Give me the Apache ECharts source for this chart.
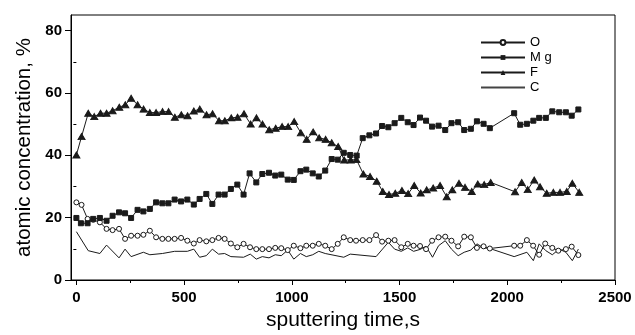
<!DOCTYPE html>
<html><head><meta charset="utf-8">
<script src="https://cdn.jsdelivr.net/npm/echarts@6/dist/echarts.min.js"></script>
<style>html,body{margin:0;padding:0;background:#fff}#c{width:635px;height:335px}</style>
</head><body><div id="c"></div>
<script>
// tick labels
const xTicks = [0, 500, 1000, 1500, 2000, 2500];
const xMinorTicks = [250, 750, 1250, 1750, 2250];
const yTicks = [0, 20, 40, 60, 80];
const yMinorTicks = [10, 30, 50, 70];

// O (open circles)
const oTime = [0,24,52,78,109,140,168,198,226,254,284,311,341,370,399,427,456,486,515,545,572,603,631,660,688,717,747,776,806,835,863,894,923,951,981,1009,1040,1067,1097,1125,1155,1185,1213,1241,1271,1298,1329,1360,1391,1419,1448,1477,1508,1538,1565,1595,1623,1651,1681,1712,1741,1772,1800,1831,1859,1890,1919,2032,2060,2091,2120,2148,2176,2209,2237,2272,2299,2330];
const oValue = [24.9,24.1,19.6,19.3,18.5,16.4,16,16.4,13.2,14.2,14.2,14.5,15.8,13.7,13.2,13.2,13.2,13.5,12.6,11.7,12.8,12.4,12.8,13.5,13.2,11.7,10.5,11.6,10.5,9.9,9.9,9.9,10.3,10.2,9.6,11,10.2,11,11,11.6,11,9.9,11.6,13.7,12.8,12.6,12.8,12.8,14.4,12.3,12.6,12.8,10.5,11.6,11,10.9,9.9,12.6,13.7,13.9,12.6,10.8,13.9,13.7,10.3,10.8,10.1,11,11,12.8,11,8.1,11.7,10.3,9.4,9.9,10.7,8];

// Mg (filled squares)
const mgTime = [0,21,52,78,109,140,168,198,226,254,284,311,341,370,399,427,456,486,515,545,572,603,631,660,688,717,747,776,804,835,863,894,923,951,981,1009,1040,1067,1097,1125,1155,1185,1213,1241,1271,1301,1329,1360,1391,1419,1448,1477,1508,1538,1565,1595,1623,1651,1681,1712,1741,1772,1800,1831,1859,1890,1919,2032,2060,2091,2121,2148,2179,2209,2241,2272,2299,2330];
const mgValue = [19.9,18.2,18.2,19.6,19.9,19,20.6,21.7,21.4,19.9,22.5,22,22.8,24.9,24.6,24.6,25.8,25.2,25.8,24.2,26,27.6,24.4,27.4,27.4,29.2,30.6,27.4,34.2,31.3,34,34.4,33.5,33.8,32.2,32.1,34.9,35.4,34.2,33.2,35.1,38.8,38.6,40.8,40.1,39.9,45.5,46.4,47,49.4,49,50.3,52,50.6,49.7,52.1,51.1,49.2,49.5,48.1,50.3,50.6,48.1,48.5,50.9,50.1,48.7,53.5,49.8,50.1,51.1,52,52,54.1,53.8,53.8,52.7,54.7];

// F (filled triangles)
const fTime = [0,24,55,83,112,140,168,199,227,254,284,312,341,370,400,428,457,487,516,545,573,604,632,662,689,719,748,778,809,836,864,895,925,955,983,1011,1042,1069,1099,1127,1157,1185,1215,1243,1273,1300,1332,1363,1394,1422,1451,1480,1511,1540,1568,1598,1626,1656,1688,1719,1745,1776,1804,1835,1863,1893,1923,2036,2067,2095,2125,2152,2183,2214,2245,2276,2302,2334];
const fValue = [40.1,46,53.5,52.4,53.5,53.5,54.3,55.4,56.2,58.3,56.2,54.8,53.7,53.7,54,54,52.2,53,52.7,54.2,54.8,53,53.3,51.1,51.1,52,52.2,53.3,50,52,50,48.2,48.7,49.2,49.2,50.8,47.2,45.1,47.5,45.6,45.1,44,42.8,38.5,38.5,38.6,34,33.2,31.7,28.4,27.4,27.8,28.7,27.7,30.3,27.9,28.9,29.5,30.3,26.7,28.9,31,29.7,28.4,30.8,30.6,31.3,28.3,31.3,29,32.1,29.9,27.8,28.1,28.1,28.4,31,28.1];

// C (plain line)
const cTime = [0,55,109,140,198,226,254,311,341,399,456,515,545,572,603,631,660,688,717,776,807,835,863,894,923,951,981,1009,1040,1067,1097,1125,1155,1241,1271,1391,1448,1477,1508,1538,1565,1595,1623,1653,1681,1712,1741,1772,1800,1831,1859,1890,1919,2032,2091,2121,2148,2179,2209,2241,2272,2302,2330];
const cValue = [15.5,9.4,8.5,11.2,7.1,9.9,7.5,8.9,8.1,8.5,9.2,9.2,9.9,7.3,7.8,9.9,8.3,8.5,7.5,7.3,8.3,6.7,7.5,7.1,8.1,7.8,9.6,6.7,8.5,7.5,8.1,9.2,8.5,7.3,8.3,7.5,12.1,9.9,9.2,10.3,9.2,9.8,10.8,7.3,11,12.6,9.9,7.8,8.9,9.6,11.6,10.3,10.1,7.5,8.9,6.2,11.6,9.4,8.1,9.9,8.9,6.2,9.9];

const pair = (t, v) => t.map((x, i) => [x, v[i]]);
const FONT = 'Liberation Sans, Arial, sans-serif';
const INK = '#1a1a1a';
const plain = v => String(v);

const chart = echarts.init(document.getElementById('c'), null, {renderer: 'canvas'});
const lineBase = {type: 'line', xAxisIndex: 0, yAxisIndex: 0, animation: false,
  lineStyle: {color: INK, width: 1}, emphasis: {disabled: true}};

chart.setOption({
  backgroundColor: '#fff',
  animation: false,
  grid: {left: 71, right: 20, top: 15, bottom: 55, show: true, borderColor: '#000', borderWidth: 1,
    outerBoundsMode: 'none'},
  legend: {
    orient: 'vertical', left: 475, top: 30, itemWidth: 44, itemHeight: 6, itemGap: 0,
    data: [
      {name: 'O'},
      {name: 'M g'},
      {name: 'F'},
      {name: 'C', lineStyle: {color: '#444'}, itemStyle: {opacity: 0, color: 'rgba(0,0,0,0)', borderColor: 'rgba(0,0,0,0)'}}
    ],
    textStyle: {fontFamily: FONT, fontSize: 13, color: '#000', lineHeight: 15},
    selectedMode: false
  },
  xAxis: [
    {type: 'value', min: -25, max: 2500, position: 'bottom',
     axisLine: {onZero: false, lineStyle: {color: '#000', width: 1}},
     axisTick: {show: true, length: 5, customValues: xTicks, lineStyle: {color: '#000'}},
     axisLabel: {customValues: xTicks, formatter: plain, color: '#000', fontSize: 15, fontWeight: 'bold', fontFamily: FONT, margin: 10},
     splitLine: {show: false},
     name: 'sputtering time,s', nameLocation: 'middle', nameGap: 30,
     nameTextStyle: {fontSize: 21, color: '#000', fontFamily: FONT}},
    {type: 'value', min: -25, max: 2500, position: 'bottom',
     axisLine: {show: false},
     axisTick: {show: true, length: 3, customValues: xMinorTicks, lineStyle: {color: '#000'}},
     axisLabel: {show: false}, splitLine: {show: false}}
  ],
  yAxis: [
    {type: 'value', min: 0, max: 85, position: 'left',
     axisLine: {show: true, onZero: false, lineStyle: {color: '#000', width: 1}},
     axisTick: {show: true, length: 6, customValues: yTicks, lineStyle: {color: '#000'}},
     axisLabel: {customValues: yTicks, formatter: plain, color: '#000', fontSize: 15, fontWeight: 'bold', fontFamily: FONT, margin: 9},
     splitLine: {show: false},
     name: 'atomic concentration, %', nameLocation: 'middle', nameGap: 36,
     nameTextStyle: {fontSize: 20.5, color: '#000', fontFamily: FONT}},
    {type: 'value', min: 0, max: 85, position: 'left',
     axisLine: {show: false},
     axisTick: {show: true, length: 3, customValues: yMinorTicks, lineStyle: {color: '#000'}},
     axisLabel: {show: false}, splitLine: {show: false}}
  ],
  series: [
    Object.assign({}, lineBase, {name: 'O', data: pair(oTime, oValue), symbol: 'circle', symbolSize: 5,
      itemStyle: {color: '#fff', borderColor: INK, borderWidth: 1}, z: 4}),
    Object.assign({}, lineBase, {name: 'M g', data: pair(mgTime, mgValue), symbol: 'rect', symbolSize: 5,
      itemStyle: {color: INK, borderColor: INK}, z: 5}),
    Object.assign({}, lineBase, {name: 'F', data: pair(fTime, fValue), symbol: 'triangle', symbolSize: [7, 6],
      itemStyle: {color: INK, borderColor: INK}, z: 5}),
    Object.assign({}, lineBase, {name: 'C', data: pair(cTime, cValue), symbol: 'none', showSymbol: false,
      itemStyle: {color: INK}, z: 3})
  ]
});
</script>
</body></html>
